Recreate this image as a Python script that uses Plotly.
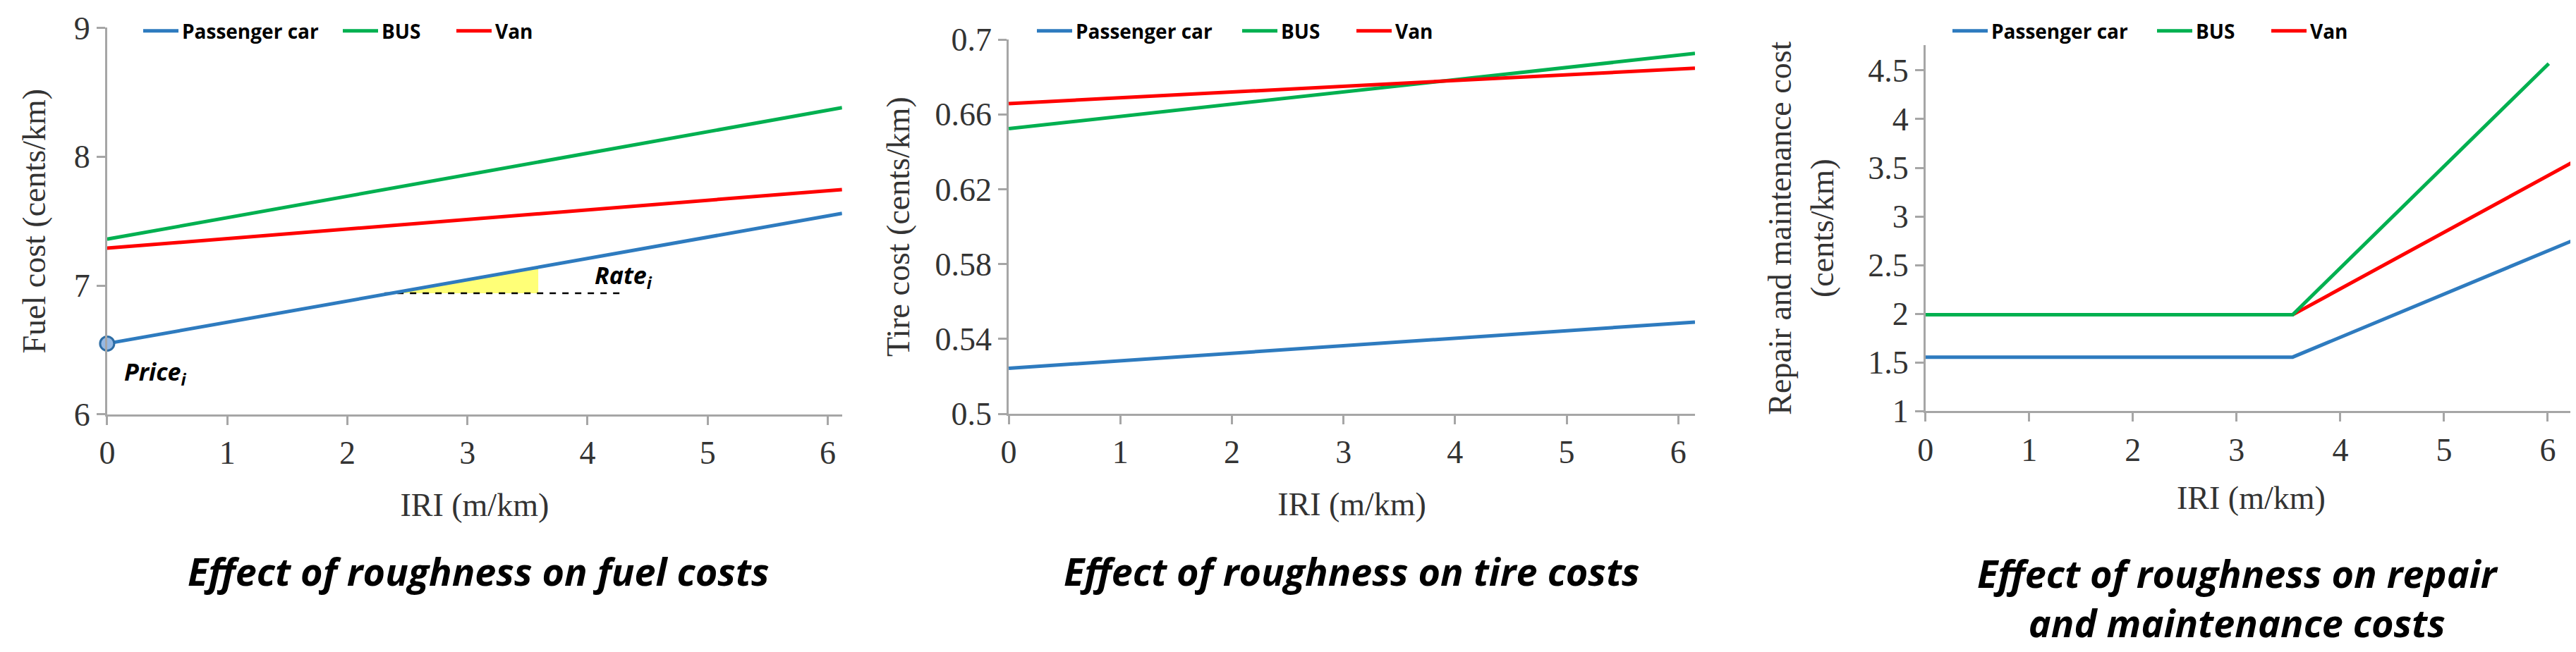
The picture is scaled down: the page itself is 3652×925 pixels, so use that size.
import plotly.graph_objects as go
from plotly.subplots import make_subplots

# 数据
series = ['Passenger car', 'BUS', 'Van']
colors = ['#2e7bbf', '#00b050', '#ff0000']

# 燃油成本
fuel_x = [0, 6.12]
fuel_car = [6.55, 7.56]
fuel_bus = [7.36, 8.38]
fuel_van = [7.29, 7.745]

# 轮胎成本
tire_x = [0, 6.15]
tire_car = [0.5243, 0.549]
tire_bus = [0.6524, 0.6926]
tire_van = [0.6658, 0.6847]

# 维修保养成本
rm_car_x = [0, 3.54, 6.28]
rm_car = [1.555, 1.555, 2.77]
rm_bus_x = [0, 3.54, 6.01]
rm_bus = [1.99, 1.99, 4.57]
rm_van_x = [0, 3.54, 6.28]
rm_van = [1.99, 1.99, 3.58]

# Rate 三角形和 Price 点
rate_tri_x = [2.31, 3.59, 3.59, 2.31]
rate_tri_y = [6.94, 6.94, 7.146, 6.94]
rate_dash_x = [2.31, 4.29]
rate_dash_y = [6.94, 6.94]
price_x = [0]
price_y = [6.55]

fig = make_subplots(rows=1, cols=3)

# 黄色三角形 + 虚线
fig.add_trace(go.Scatter(x=rate_tri_x, y=rate_tri_y, fill='toself', fillcolor='#ffff77',
                         mode='none', showlegend=False, hoverinfo='skip'), row=1, col=1)
fig.add_trace(go.Scatter(x=rate_dash_x, y=rate_dash_y, mode='lines', showlegend=False,
                         line=dict(color='black', width=2.5, dash='dash')), row=1, col=1)

panels = [
    (1, [(fuel_x, fuel_car), (fuel_x, fuel_bus), (fuel_x, fuel_van)]),
    (2, [(tire_x, tire_car), (tire_x, tire_bus), (tire_x, tire_van)]),
    (3, [(rm_car_x, rm_car), (rm_bus_x, rm_bus), (rm_van_x, rm_van)]),
]
# 每个图例项单独一个 legend，方便摆位置（左端像素）
legend_px = [[190, 473, 634], [1457, 1748, 1910], [2755, 3045, 3207]]

legend_font = dict(family='Open Sans', size=28, color='black', weight='bold')
n = 0
for col, data in panels:
    # 维修图里绿线盖在红线上
    order = [0, 2, 1] if col == 3 else [0, 1, 2]
    for i in order:
        xs, ys = data[i]
        k = (col - 1) * 3 + i + 1
        lg = 'legend' if k == 1 else 'legend%d' % k
        fig.add_trace(go.Scatter(x=xs, y=ys, mode='lines', name=series[i], legend=lg,
                                 line=dict(color=colors[i], width=5)), row=1, col=col)
        fig.update_layout({lg: dict(x=legend_px[col - 1][i] / 3652, y=0.961, xanchor='left',
                                    yanchor='middle', orientation='h', itemwidth=50,
                                    font=legend_font, bgcolor='rgba(0,0,0,0)')})

fig.add_trace(go.Scatter(x=price_x, y=price_y, mode='markers', showlegend=False, cliponaxis=False,
                         marker=dict(size=20, color='#95b9e4', line=dict(color='#2e6da4', width=3))),
              row=1, col=1)

axis_style = dict(showline=True, linecolor='#a6a6a6', linewidth=3, ticks='outside',
                  tickcolor='#a6a6a6', tickwidth=3, ticklen=12, showgrid=False, zeroline=False,
                  automargin=False,
                  tickfont=dict(family='Liberation Serif', size=46, color='#333333'))
title_font = dict(family='Liberation Serif', size=46, color='#333333')

fig.update_xaxes(**axis_style)
fig.update_yaxes(**axis_style)

fig.update_xaxes(row=1, col=1, domain=[0.0394, 0.3247], range=[0, 6.12], dtick=1,
                 title=dict(text='IRI (m/km)', font=title_font, standoff=33))
fig.update_xaxes(row=1, col=2, domain=[0.3894, 0.6558], range=[0, 6.15], dtick=1,
                 title=dict(text='IRI (m/km)', font=title_font, standoff=33))
fig.update_xaxes(row=1, col=3, domain=[0.7453, 0.9981], range=[0, 6.28], dtick=1,
                 title=dict(text='IRI (m/km)', font=title_font, standoff=28))

fig.update_yaxes(row=1, col=1, domain=[0.373, 0.966], range=[6, 9], dtick=1,
                 title=dict(text='Fuel cost (cents/km)', font=title_font, standoff=26))
fig.update_yaxes(row=1, col=2, domain=[0.374, 0.948], range=[0.5, 0.7], tick0=0.5, dtick=0.04,
                 title=dict(text='Tire cost (cents/km)', font=title_font, standoff=22))
fig.update_yaxes(row=1, col=3, domain=[0.378, 0.9395], range=[1, 4.76], dtick=0.5,
                 title=dict(text='Repair and maintenance cost<br>(cents/km)', font=title_font,
                            standoff=35))

bold_it = dict(family='Open Sans', size=54, color='black', weight='bold', style='italic')
fig.add_annotation(text='Effect of roughness on fuel costs', xref='paper', yref='paper',
                   x=0.1837, y=0.133, xanchor='center', yanchor='middle', showarrow=False,
                   font=bold_it)
fig.add_annotation(text='Effect of roughness on tire costs', xref='paper', yref='paper',
                   x=0.5225, y=0.133, xanchor='center', yanchor='middle', showarrow=False,
                   font=bold_it)
fig.add_annotation(text='Effect of roughness on repair<br>and maintenance costs', xref='paper',
                   yref='paper', x=0.8666, y=0.092, xanchor='center', yanchor='middle',
                   showarrow=False, font=bold_it)

lab_font = dict(family='Open Sans', size=34, color='black', weight='bold', style='italic')
fig.add_annotation(text='Price<sub>i</sub>', x=0.405, y=6.32, xref='x', yref='y',
                   showarrow=False, font=lab_font)
fig.add_annotation(text='Rate<sub>i</sub>', x=4.3, y=7.07, xref='x', yref='y',
                   showarrow=False, font=lab_font)

fig.update_layout(
    width=3652, height=925,
    margin=dict(l=0, r=0, t=0, b=0),
    plot_bgcolor='white', paper_bgcolor='white',
)

fig.write_html("out.html")
